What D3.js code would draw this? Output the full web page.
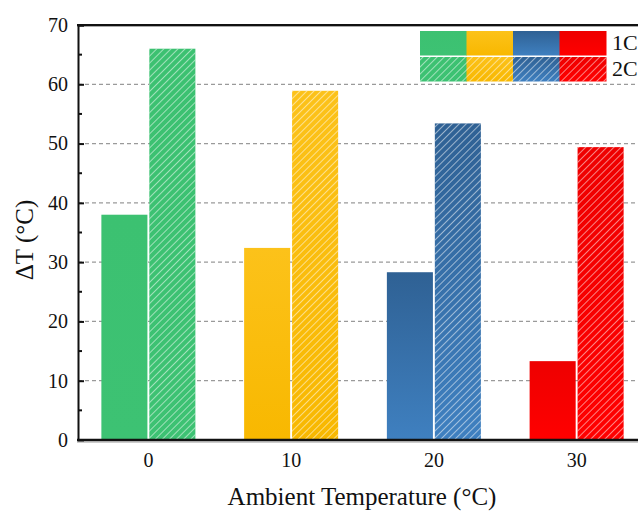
<!DOCTYPE html>
<html>
<head>
<meta charset="utf-8">
<script src="https://cdn.jsdelivr.net/npm/d3@7"></script>
<style>
  html, body { margin: 0; padding: 0; background: #fff; }
  svg { display: block; }
  svg text { font-family: "Liberation Serif", "Times New Roman", serif; }
</style>
</head>
<body>
<svg id="chart" width="638" height="512"></svg>
<script>
// Temperature rise at each ambient temperature, for 1C and 2C rates
const ambient = ["0", "10", "20", "30"];
const rates = ["1C", "2C"];
const rise1C = [38.0, 32.4, 28.3, 13.3];
const rise2C = [66.0, 58.9, 53.4, 49.4];
const yTicks = [0, 10, 20, 30, 40, 50, 60, 70];

// Per-temperature fill: [top, bottom] of a soft vertical gradient
const palette = [
  ["#3cc171", "#3dc273"],
  ["#fcc21a", "#f8b800"],
  ["#2f6194", "#3f80c0"],
  ["#ee0000", "#ff0000"]
];

const svg = d3.select("#chart");
const margin = { left: 78, top: 25, bottom: 440 };

const x0 = d3.scaleBand().domain(ambient).range([77, 648]).paddingInner(0).paddingOuter(0);
const x1 = d3.scaleBand().domain(rates).range([-47, 47]).paddingInner(0.04);
const y = d3.scaleLinear().domain([0, 70]).range([margin.bottom, margin.top]);

const defs = svg.append("defs");
palette.forEach((c, i) => {
  const g = defs.append("linearGradient")
    .attr("id", "grad" + i).attr("x1", 0).attr("y1", 0).attr("x2", 0).attr("y2", 1);
  g.append("stop").attr("offset", "0%").attr("stop-color", c[0]);
  g.append("stop").attr("offset", "100%").attr("stop-color", c[1]);
});
// diagonal white hatching laid over the 2C fills
const hatch = defs.append("pattern")
  .attr("id", "hatch").attr("patternUnits", "userSpaceOnUse")
  .attr("width", 5).attr("height", 5)
  .attr("patternTransform", "rotate(45)");
hatch.append("line")
  .attr("x1", 0).attr("y1", 0).attr("x2", 0).attr("y2", 5)
  .attr("stroke", "#ffffff").attr("stroke-opacity", 0.8).attr("stroke-width", 1.3);

// dashed grid lines
svg.append("g").selectAll("line")
  .data(yTicks.filter(t => t > 0 && t < 70))
  .join("line")
  .attr("x1", margin.left).attr("x2", 638)
  .attr("y1", d => y(d)).attr("y2", d => y(d))
  .attr("stroke", "#9a9a9a").attr("stroke-width", 1.3)
  .attr("stroke-dasharray", "4,3");

// bars
const rows = ambient.map((a, i) => ({ a, i, v: [rise1C[i], rise2C[i]] }));
const groups = svg.append("g").selectAll("g")
  .data(rows).join("g")
  .attr("transform", d => `translate(${x0(d.a) + x0.bandwidth() / 2},0)`);

groups.each(function (d) {
  const g = d3.select(this);
  rates.forEach((r, k) => {
    const val = d.v[k];
    const bx = x1(r), bw = x1.bandwidth();
    g.append("rect")
      .attr("x", bx).attr("width", bw)
      .attr("y", y(val)).attr("height", y(0) - y(val))
      .attr("fill", `url(#grad${d.i})`);
    if (r === "2C") {
      g.append("rect")
        .attr("x", bx).attr("width", bw)
        .attr("y", y(val)).attr("height", y(0) - y(val))
        .attr("fill", "url(#hatch)");
    }
  });
});

// axes frame
svg.append("line").attr("x1", margin.left - 1).attr("x2", 638)
  .attr("y1", margin.top).attr("y2", margin.top)
  .attr("stroke", "#111").attr("stroke-width", 2);
svg.append("line").attr("x1", margin.left - 1).attr("x2", 638)
  .attr("y1", margin.top + 1.5).attr("y2", margin.top + 1.5)
  .attr("stroke", "#aaa").attr("stroke-width", 1);

const yAxis = d3.axisLeft(y).tickValues(yTicks).tickSize(-6).tickPadding(10).tickFormat(d3.format("d"));
const yg = svg.append("g").attr("transform", `translate(${margin.left},0)`).call(yAxis);
yg.attr("font-family", null);
yg.select(".domain").attr("stroke", "#111").attr("stroke-width", 2);
yg.selectAll(".tick line").attr("stroke", "#111").attr("stroke-width", 2);
yg.selectAll(".tick text").attr("font-size", 20).attr("fill", "#111");
// minor ticks
svg.append("g").selectAll("line")
  .data(d3.range(5, 70, 10)).join("line")
  .attr("x1", margin.left).attr("x2", margin.left + 4)
  .attr("y1", d => y(d)).attr("y2", d => y(d))
  .attr("stroke", "#111").attr("stroke-width", 2);

const xAxis = d3.axisBottom(x0).tickSize(0).tickPadding(13);
const xg = svg.append("g").attr("transform", `translate(0,${margin.bottom})`).call(xAxis);
xg.attr("font-family", null);
xg.select(".domain").remove();
xg.selectAll(".tick text").attr("font-size", 20).attr("fill", "#111");
svg.append("line").attr("x1", margin.left - 1).attr("x2", 638)
  .attr("y1", margin.bottom).attr("y2", margin.bottom)
  .attr("stroke", "#111").attr("stroke-width", 2.5);
svg.append("line").attr("x1", margin.left - 1).attr("x2", 638)
  .attr("y1", margin.bottom + 2).attr("y2", margin.bottom + 2)
  .attr("stroke", "#999").attr("stroke-width", 1);

// axis titles
svg.append("text")
  .attr("x", 362).attr("y", 505).attr("text-anchor", "middle")
  .attr("font-size", 25).attr("fill", "#111")
  .text("Ambient Temperature (°C)");
svg.append("text")
  .attr("transform", "translate(33,240) rotate(-90)")
  .attr("text-anchor", "middle")
  .attr("font-size", 25).attr("fill", "#111")
  .text("ΔT (°C)");

// legend
const legend = svg.append("g").attr("transform", "translate(420,31)");
const cellW = 46.5, cellH = 24.5, rowGap = 26;
rates.forEach((r, k) => {
  palette.forEach((c, i) => {
    legend.append("rect")
      .attr("x", i * cellW).attr("y", k * rowGap)
      .attr("width", cellW + 0.5).attr("height", cellH)
      .attr("fill", `url(#grad${i})`);
    if (r === "2C") {
      legend.append("rect")
        .attr("x", i * cellW).attr("y", k * rowGap)
        .attr("width", cellW + 0.5).attr("height", cellH)
        .attr("fill", "url(#hatch)");
    }
  });
  legend.append("text")
    .attr("x", 4 * cellW + 6).attr("y", k * rowGap + 19)
    .attr("font-size", 22).attr("fill", "#111")
    .text(r);
});
</script>
</body>
</html>
